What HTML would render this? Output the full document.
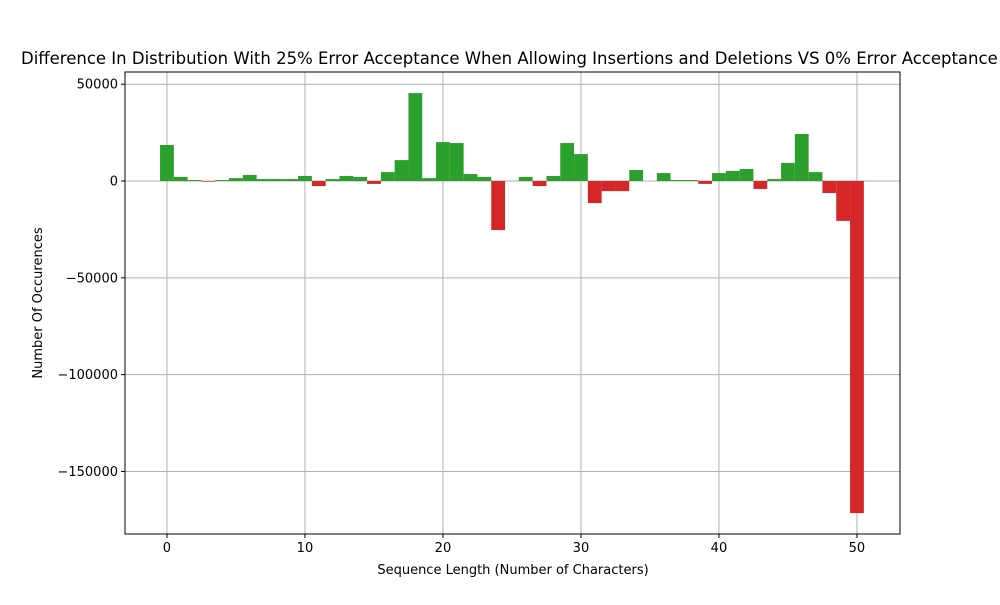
<!DOCTYPE html>
<html><head><meta charset="utf-8"><style>
body{margin:0;background:#fff;font-family:"Liberation Sans","DejaVu Sans",sans-serif;overflow:hidden}
svg text{font-family:"DejaVu Sans","Liberation Sans",sans-serif}
</style></head><body>
<svg id="chart" width="1000" height="600"></svg>
<script>
const categories=[0,1,2,3,4,5,6,7,8,9,10,11,12,13,14,15,16,17,18,19,20,21,22,23,24,25,26,27,28,29,30,31,32,33,34,35,36,37,38,39,40,41,42,43,44,45,46,47,48,49,50];
const values=[18600,2100,500,-350,500,1500,3100,1000,1000,1000,2600,-2600,1000,2600,2100,-1500,4600,10800,45400,1500,20100,19600,3600,2100,-25300,0,2100,-2600,2600,19600,13900,-11400,-5200,-5200,5700,0,4100,500,500,-1500,4100,5200,6200,-4100,1000,9300,24300,4600,-6200,-20600,-171500];
const xTicks=[0,10,20,30,40,50];
const yTicks=[50000,0,-50000,-100000,-150000];
const yTickLabels=["50000","0","\u221250000","\u2212100000","\u2212150000"];
const L=125,R=900,T=72,B=534;
const xMin=-3.04,xMax=53.12,yMax=56300,yMin=-182300;
const sx=v=>L+(v-xMin)/(xMax-xMin)*(R-L);
const sy=v=>T+(yMax-v)/(yMax-yMin)*(B-T);
const svg=document.getElementById('chart');
const NS='http://www.w3.org/2000/svg';
function mk(t,a,p){const e=document.createElementNS(NS,t);for(const k in a)e.setAttribute(k,a[k]);(p||svg).appendChild(e);return e;}
const grid=mk('g',{});


xTicks.forEach(v=>{mk('line',{x1:sx(v),x2:sx(v),y1:T,y2:B,stroke:'#b0b0b0','stroke-width':1},grid);});
yTicks.forEach(v=>{mk('line',{x1:L,x2:R,y1:sy(v),y2:sy(v),stroke:'#b0b0b0','stroke-width':1},grid);});
const bars=mk('g',{});


categories.forEach((c,i)=>{const v=values[i];if(v===0)return;
const x0=sx(c-0.5),x1=sx(c+0.5),y0=sy(Math.max(v,0)),y1=sy(Math.min(v,0));
const r=mk('rect',{x:x0,y:y0,width:x1-x0,height:Math.max(y1-y0,0.5),fill:v>0?'#2ca02c':'#d62728'},bars);

});
const frame=mk('rect',{x:L,y:T,width:R-L,height:B-T,fill:'none',stroke:'#000','stroke-width':1});


xTicks.forEach(v=>{mk('line',{x1:sx(v),x2:sx(v),y1:B,y2:B+4,stroke:'#000'});
const t=mk('text',{x:sx(v),y:B+18,'text-anchor':'middle','font-size':13});t.textContent=v;

});
yTicks.forEach((v,i)=>{mk('line',{x1:L-4,x2:L,y1:sy(v),y2:sy(v),stroke:'#000'});
const t=mk('text',{x:L-7,y:sy(v)+4.5,'text-anchor':'end','font-size':13});t.textContent=yTickLabels[i];

});
let t=mk('text',{x:513,y:574,'text-anchor':'middle','font-size':13});t.textContent='Sequence Length (Number of Characters)';


t=mk('text',{x:42,y:303,'text-anchor':'middle','font-size':13,transform:'rotate(-90 42 303)'});t.textContent='Number Of Occurences';


t=mk('text',{x:21,y:64,'text-anchor':'start','font-size':16.5});t.textContent='Difference In Distribution With 25% Error Acceptance When Allowing Insertions and Deletions VS 0% Error Acceptance';


</script>
</body></html>
